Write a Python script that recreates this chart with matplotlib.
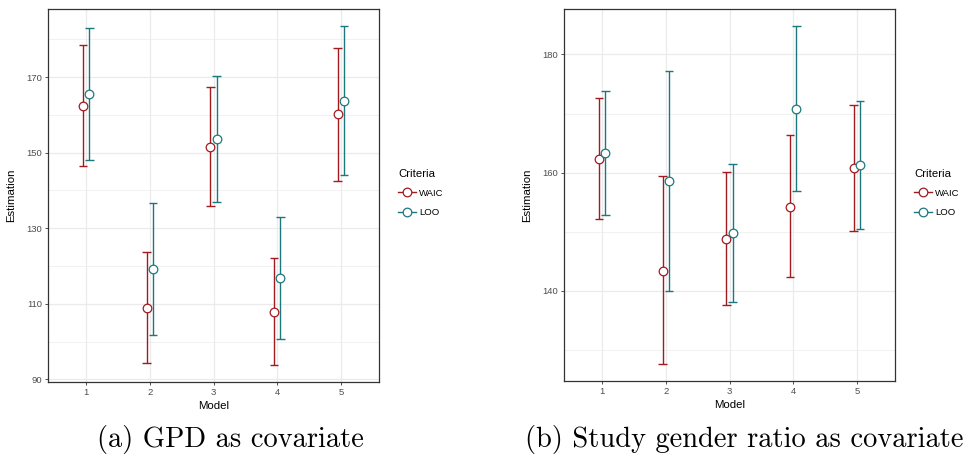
import matplotlib
matplotlib.use("Agg")
import matplotlib.pyplot as plt
import numpy as np
from matplotlib.lines import Line2D

models = [1, 2, 3, 4, 5]
criteria = ["WAIC", "LOO"]

# Panel (a): GPD as covariate
a_waic_est = [162.3, 109.0, 151.6, 107.9, 160.1]
a_waic_lo = [146.4, 94.2, 135.9, 93.8, 142.4]
a_waic_hi = [178.5, 123.8, 167.4, 122.0, 177.8]
a_loo_est = [165.5, 119.2, 153.6, 116.7, 163.7]
a_loo_lo = [148.1, 101.7, 137.0, 100.6, 144.2]
a_loo_hi = [183.0, 136.6, 170.2, 132.9, 183.5]

# Panel (b): Study gender ratio as covariate
b_waic_est = [162.3, 143.4, 148.8, 154.2, 160.8]
b_waic_lo = [152.1, 127.5, 137.5, 142.3, 150.1]
b_waic_hi = [172.6, 159.5, 160.1, 166.3, 171.5]
b_loo_est = [163.3, 158.6, 149.7, 170.8, 161.2]
b_loo_lo = [152.8, 140.0, 138.0, 156.8, 150.5]
b_loo_hi = [173.8, 177.2, 161.4, 184.9, 172.1]

a_yticks = [90, 110, 130, 150, 170]
a_yminor = [100, 120, 140, 160, 180]
b_yticks = [140, 160, 180]
b_yminor = [130, 150, 170]

captions = ["(a) GPD as covariate", "(b) Study gender ratio as covariate"]

colors = {"WAIC": "#A31A1E", "LOO": "#1D787E"}
W, H = 963, 459
fig = plt.figure(figsize=(W / 100, H / 100), dpi=100)
plt.rcParams['font.family'] = ['Liberation Sans', 'DejaVu Sans']


def px(x0, y0, x1, y1):
    return [x0 / W, 1 - y1 / H, (x1 - x0) / W, (y1 - y0) / H]


def panel(rect, data, yticks, yminor, ylim, legend_xy, ylab_x):
    ax = fig.add_axes(rect)
    ax.set_facecolor("white")
    off = {"WAIC": -0.05, "LOO": 0.05}
    capw = 0.07
    for crit in criteria:
        est, lo, hi = data[crit]
        xs = np.array(models) + off[crit]
        c = colors[crit]
        ax.vlines(xs, lo, hi, color=c, lw=1.0, zorder=3)
        ax.hlines(lo, xs - capw, xs + capw, color=c, lw=1.0, zorder=3)
        ax.hlines(hi, xs - capw, xs + capw, color=c, lw=1.0, zorder=3)
        ax.plot(xs, est, 'o', ms=6.2, mfc='white', mec=c, mew=0.9, zorder=4)
    ax.set_xlim(0.4, 5.6)
    ax.set_ylim(*ylim)
    ax.set_xticks(models)
    ax.set_xticklabels([str(m) for m in models])
    ax.set_yticks(yticks)
    ax.set_yticks(yminor, minor=True)
    ax.grid(True, which='major', color='#EBEBEB', lw=0.9, zorder=0)
    ax.grid(True, which='minor', axis='y', color='#EBEBEB', lw=0.5, zorder=0)
    ax.set_axisbelow(True)
    ax.tick_params(which='major', length=2.5, width=0.6, color='#333333',
                   labelsize=6.8, labelcolor='#4D4D4D', pad=1.5)
    ax.tick_params(which='minor', length=0)
    for s in ax.spines.values():
        s.set_color('#333333')
        s.set_linewidth(0.9)
    ax.set_xlabel("Model", fontsize=8.2, labelpad=3)
    ax.set_ylabel("Estimation", fontsize=8.2)
    ax.yaxis.set_label_coords(ylab_x, 0.5)
    handles = [Line2D([0], [0], color=colors[c], lw=1.0, marker='o', ms=6.2,
                      mfc='white', mec=colors[c], mew=0.9) for c in criteria]
    leg = fig.legend(handles, criteria, title="Criteria", loc='upper left',
                     bbox_to_anchor=legend_xy, frameon=False, fontsize=6.8,
                     title_fontsize=8.2, handlelength=1.9, handletextpad=0.35,
                     labelspacing=1.1, borderpad=0, borderaxespad=0)
    leg._legend_box.align = "left"
    leg._legend_box.sep = 7
    return ax


ax1 = panel(px(48, 9, 379, 382),
            {"WAIC": (a_waic_est, a_waic_lo, a_waic_hi),
             "LOO": (a_loo_est, a_loo_lo, a_loo_hi)},
            a_yticks, a_yminor, (89.3, 188.0), (398 / W, 1 - 169 / H), -0.095)
ax2 = panel(px(564, 9, 895, 381),
            {"WAIC": (b_waic_est, b_waic_lo, b_waic_hi),
             "LOO": (b_loo_est, b_loo_lo, b_loo_hi)},
            b_yticks, b_yminor, (124.7, 187.7), (914 / W, 1 - 169 / H), -0.095)

fig.text(230 / W, 1 - 440 / H, captions[0], family='cmr10', fontsize=20.5,
         ha='center', va='center')
fig.text(525 / W, 1 - 440 / H, captions[1], family='cmr10', fontsize=20.5,
         ha='left', va='center')

fig.savefig("out.png", dpi=100)
